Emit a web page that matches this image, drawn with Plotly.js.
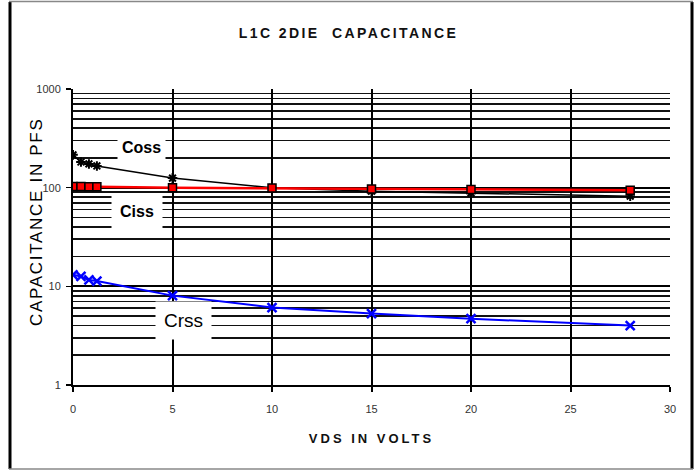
<!DOCTYPE html>
<html>
<head>
<meta charset="utf-8">
<script src="https://cdn.plot.ly/plotly-3.0.1.min.js"></script>
<style>html,body{margin:0;padding:0;background:#fff;}#chart{width:697px;height:471px;}</style>
</head>
<body>
<div id="chart"></div>
<script>
var vds = [0, 0.4, 0.8, 1.2, 5, 10, 15, 20, 28];
var coss = [215, 182, 174, 166, 125, 100, 92, 88, 82];
var ciss = [103, 103, 102, 102, 100, 99, 97, 96, 94];
var crss = [13.1, 12.6, 11.6, 11.3, 8.05, 6.1, 5.3, 4.7, 4.0];
var yTickVals = [1, 10, 100, 1000];
var yTickText = ['1', '10', '100', '1000'];
var seriesLabels = ['Coss', 'Ciss', 'Crss'];
var chartTitle = 'L1C 2DIE  CAPACITANCE';
var xTitle = 'VDS IN VOLTS';
var yTitle = 'CAPACITANCE IN PFS';

var traces = [
  {x: vds, y: coss, name: 'Coss', mode: 'lines+markers', type: 'scatter',
   line: {color: '#000000', width: 1.5},
   marker: {symbol: 'asterisk-open', size: 8, color: '#000000', line: {color: '#000000', width: 2}}},
  {x: vds, y: ciss, name: 'Ciss', mode: 'lines+markers', type: 'scatter',
   line: {color: '#ff0000', width: 2.5},
   marker: {symbol: 'square', size: 8, color: '#ff0000', line: {color: '#000000', width: 1.5}}},
  {x: vds, y: crss, name: 'Crss', mode: 'lines+markers', type: 'scatter',
   line: {color: '#0000ff', width: 2},
   marker: {symbol: 'x-thin-open', size: 9, color: '#0000ff', line: {color: '#0000ff', width: 2.5}}}
];

var FONT = 'Arial, Liberation Sans, sans-serif';
var pw = 697 - 73 - 27, ph = 471 - 89 - 86;
function px2x(p) { return (p - 73) / pw; }
function py2y(p) { return (471 - 86 - p) / ph; }
function spaced(t, s) { return '<span style="letter-spacing:' + s + 'px">' + t + '</span>'; }

var annFont = {family: FONT, size: 16, color: '#000'};
var layout = {
  width: 697, height: 471,
  margin: {l: 73, r: 27, t: 89, b: 86},
  paper_bgcolor: '#ffffff', plot_bgcolor: '#ffffff',
  showlegend: false,
  font: {family: FONT, color: '#333'},
  title: {text: '<b>' + spaced(chartTitle, 2.4) + '</b>', x: 0.5, xanchor: 'center', y: 1 - 33/471, yanchor: 'middle',
          font: {size: 14, color: '#111', family: FONT}},
  xaxis: {
    range: [0, 30], dtick: 5, tick0: 0,
    showgrid: true, gridcolor: '#000', gridwidth: 2,
    zeroline: false, showline: true, linecolor: '#000', linewidth: 2,
    ticks: 'outside', ticklen: 5, tickwidth: 2, tickcolor: '#000',
    ticklabelstandoff: 8,
    tickfont: {size: 11, color: '#333'},
    title: {text: '<b>' + spaced(xTitle, 3) + '</b>', standoff: 20, font: {size: 13, color: '#111'}}
  },
  yaxis: {
    type: 'log', range: [0, 3],
    tickvals: yTickVals, ticktext: yTickText,
    showgrid: true, gridcolor: '#000', gridwidth: 2,
    zeroline: false, showline: true, linecolor: '#000', linewidth: 2,
    ticks: 'outside', ticklen: 5, tickwidth: 1.5, tickcolor: '#000',
    ticklabelstandoff: 3,
    tickfont: {size: 11, color: '#333'},
    minor: {dtick: 'D1', showgrid: true, gridcolor: '#111', gridwidth: 1.6, ticks: ''}
  },
  annotations: [
    {xref: 'paper', yref: 'paper', x: px2x(36), y: py2y(222), xanchor: 'center', yanchor: 'middle',
     text: spaced(yTitle, 1.7), textangle: -90,
     showarrow: false, font: {family: FONT, size: 17, color: '#000'}},
    {x: 3.42, y: Math.log10(258), text: '<b>' + seriesLabels[0] + '</b>', showarrow: false, bgcolor: '#fff', borderpad: 4, font: annFont},
    {x: 3.22, y: Math.log10(58), text: '<b>' + seriesLabels[1] + '</b>', showarrow: false, bgcolor: '#fff', borderpad: 8, font: annFont},
    {x: 5.53, y: Math.log10(4.47), text: seriesLabels[2], showarrow: false, bgcolor: '#fff', borderpad: 8, font: {family: FONT, size: 19, color: '#000'}}
  ],
  shapes: [
    {type: 'line', xref: 'paper', yref: 'paper', x0: px2x(10), x1: px2x(10), y0: py2y(2), y1: py2y(469), line: {color: '#000', width: 3}},
    {type: 'line', xref: 'paper', yref: 'paper', x0: px2x(692), x1: px2x(692), y0: py2y(2), y1: py2y(469), line: {color: '#000', width: 3}},
    {type: 'line', xref: 'paper', yref: 'paper', x0: px2x(9), x1: px2x(693), y0: py2y(1.5), y1: py2y(1.5), line: {color: '#888', width: 1.5}},
    {type: 'line', xref: 'paper', yref: 'paper', x0: px2x(9), x1: px2x(693), y0: py2y(469), y1: py2y(469), line: {color: '#888', width: 1.5}}
  ]
};
Plotly.newPlot('chart', traces, layout, {displayModeBar: false, staticPlot: true});
</script>
</body>
</html>
